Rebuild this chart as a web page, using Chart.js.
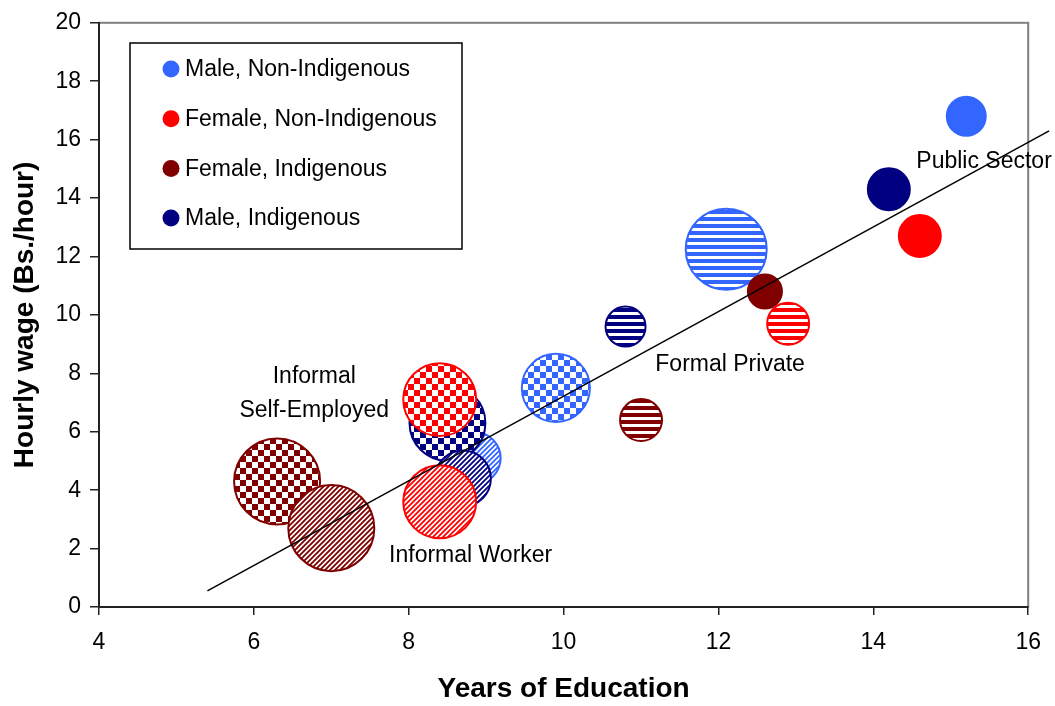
<!DOCTYPE html>
<html>
<head>
<meta charset="utf-8">
<script src="https://cdn.jsdelivr.net/npm/chart.js@4.4.1/dist/chart.umd.min.js"></script>
<style>
html,body{margin:0;padding:0;background:#fff;}
#wrap{width:1055px;height:706px;position:relative;}
</style>
</head>
<body>
<div id="wrap"><canvas id="c" width="1055" height="706"></canvas></div>
<script>
// ---- Data ----
const sectors = ['Informal Self-Employed', 'Informal Worker', 'Formal Private', 'Public Sector'];
const sectorFill = ['checker', 'diagonal', 'horizontal', 'solid'];

const seriesNames = ['Male, Non-Indigenous', 'Female, Non-Indigenous', 'Female, Indigenous', 'Male, Indigenous'];
const seriesColors = ['#3366FF', '#FF0000', '#800000', '#000080'];

// years of education, by sector
const maleNonIndEduc   = [9.9, 8.85, 12.1, 15.2];
const femaleNonIndEduc = [8.4, 8.4, 12.9, 14.6];
const femaleIndEduc    = [6.3, 7.0, 11.0, 12.6];
const maleIndEduc      = [8.5, 8.7, 10.8, 14.2];

// hourly wage (Bs./hour), by sector
const maleNonIndWage   = [7.5, 5.1, 12.25, 16.8];
const femaleNonIndWage = [7.1, 3.6, 9.7, 12.7];
const femaleIndWage    = [4.3, 2.7, 6.4, 10.8];
const maleIndWage      = [6.3, 4.4, 9.6, 14.3];

// relative bubble size (area), by sector
const maleNonIndSize   = [11.6, 6.8, 16.4, 3.8];
const femaleNonIndSize = [13.3, 13.3, 4.4, 4.4];
const femaleIndSize    = [18.5, 18.5, 4.4, 2.9];
const maleIndSize      = [14.4, 7.8, 4.0, 4.4];

// fitted trend line end points
const trendEduc = [5.4, 16.27];
const trendWage = [0.55, 16.3];

// text annotations
const noteLines = [['Informal', 'Self-Employed'], ['Informal Worker'], ['Formal Private'], ['Public Sector']];
const noteEduc  = [6.78, 8.8, 12.15, 15.43];
const noteWage  = [7.9, 1.76, 8.3, 15.25];

const xTicks = [4, 6, 8, 10, 12, 14, 16];
const yTicks = [0, 2, 4, 6, 8, 10, 12, 14, 16, 18, 20];

// ---- Helpers ----
const FONT = '"Liberation Sans", Arial, sans-serif';

function makePattern(kind, color) {
  if (kind === 'solid') return color;
  const c = document.createElement('canvas');
  const g = c.getContext('2d');
  if (kind === 'checker') {
    c.width = c.height = 12;
    g.fillStyle = '#fff'; g.fillRect(0, 0, 12, 12);
    g.fillStyle = color; g.fillRect(0, 0, 6, 6); g.fillRect(6, 6, 6, 6);
  } else if (kind === 'diagonal') {
    const s = 5;
    c.width = c.height = s;
    g.fillStyle = '#fff'; g.fillRect(0, 0, s, s);
    g.strokeStyle = color; g.lineWidth = 1.8;
    g.beginPath();
    for (const o of [-s, 0, s]) { g.moveTo(o - 1, s + 1); g.lineTo(o + s + 1, -1); }
    g.stroke();
  } else if (kind === 'horizontal') {
    c.width = 7; c.height = 7;
    g.fillStyle = '#fff'; g.fillRect(0, 0, 7, 7);
    g.fillStyle = color; g.fillRect(0, 0, 7, 4);
  }
  return g.createPattern(c, 'repeat');
}

function sizeToRadius(s) { return 10 * Math.sqrt(s); }

function buildSeries(idx, educ, wage, size, order) {
  const color = seriesColors[idx];
  return {
    type: 'bubble',
    label: seriesNames[idx],
    data: educ.map((x, i) => ({ x: x, y: wage[i], r: sizeToRadius(size[i]) })),
    backgroundColor: sectorFill.map(k => makePattern(k, color)),
    borderColor: color,
    borderWidth: 2,
    hoverBorderWidth: 2,
    order: order
  };
}

const datasets = [
  {
    type: 'line',
    label: 'Trend',
    data: trendEduc.map((x, i) => ({ x: x, y: trendWage[i] })),
    borderColor: '#000',
    borderWidth: 1.5,
    pointRadius: 0,
    fill: false,
    clip: false,
    order: 0
  },
  buildSeries(0, maleNonIndEduc, maleNonIndWage, maleNonIndSize, 4),
  buildSeries(1, femaleNonIndEduc, femaleNonIndWage, femaleNonIndSize, 1),
  buildSeries(2, femaleIndEduc, femaleIndWage, femaleIndSize, 3),
  buildSeries(3, maleIndEduc, maleIndWage, maleIndSize, 2)
];

// ---- Plugins ----
const backgroundFrame = {
  id: 'backgroundFrame',
  beforeDraw(chart) {
    const { ctx, chartArea: a } = chart;
    ctx.save();
    ctx.fillStyle = '#fff';
    ctx.fillRect(0, 0, chart.width, chart.height);
    ctx.strokeStyle = '#808080';
    ctx.lineWidth = 2;
    ctx.strokeRect(a.left, a.top, a.right - a.left, a.bottom - a.top);
    ctx.restore();
  }
};

const notes = {
  id: 'notes',
  beforeDatasetsDraw(chart) {
    const { ctx, scales } = chart;
    ctx.save();
    ctx.fillStyle = '#000';
    ctx.font = '23px ' + FONT;
    ctx.textAlign = 'center';
    ctx.textBaseline = 'middle';
    noteLines.forEach((lines, i) => {
      const px = scales.x.getPixelForValue(noteEduc[i]);
      const py = scales.y.getPixelForValue(noteWage[i]);
      lines.forEach((t, j) => ctx.fillText(t, px, py + j * 34));
    });
    ctx.restore();
  }
};

const boxLegend = {
  id: 'boxLegend',
  afterDatasetsDraw(chart) {
    const { ctx } = chart;
    const box = { x: 130, y: 43, w: 332, h: 206 };
    ctx.save();
    ctx.fillStyle = '#fff';
    ctx.fillRect(box.x, box.y, box.w, box.h);
    ctx.strokeStyle = '#000';
    ctx.lineWidth = 1.5;
    ctx.strokeRect(box.x, box.y, box.w, box.h);
    ctx.font = '23px ' + FONT;
    ctx.textAlign = 'left';
    ctx.textBaseline = 'middle';
    seriesNames.forEach((name, i) => {
      const cy = 69 + i * 49.7;
      ctx.fillStyle = seriesColors[i];
      ctx.beginPath();
      ctx.arc(171, cy, 8.5, 0, Math.PI * 2);
      ctx.fill();
      ctx.fillStyle = '#000';
      ctx.fillText(name, 185, cy + 1);
    });
    ctx.restore();
  }
};

// ---- Chart ----
new Chart(document.getElementById('c'), {
  type: 'bubble',
  data: { datasets: datasets },
  options: {
    responsive: false,
    animation: false,
    events: [],
    layout: { autoPadding: false, padding: { top: 17, right: 26, left: 0, bottom: 0 } },
    plugins: {
      legend: { display: false },
      tooltip: { enabled: false }
    },
    scales: {
      x: {
        type: 'linear',
        min: 4, max: 16,
        afterBuildTicks: s => { s.ticks = xTicks.map(v => ({ value: v })); },
        afterFit: s => { s.height = 99; },
        grid: { drawOnChartArea: false, drawTicks: true, tickLength: 8, color: '#222', lineWidth: 1.5 },
        border: { display: true, color: '#222', width: 2 },
        ticks: { color: '#000', font: { family: FONT, size: 23 }, padding: 14, maxRotation: 0 },
        title: { display: true, text: 'Years of Education', color: '#000',
                 font: { family: FONT, size: 28, weight: 'bold' }, padding: { top: 0, bottom: 0 } }
      },
      y: {
        type: 'linear',
        min: 0, max: 20,
        afterBuildTicks: s => { s.ticks = yTicks.map(v => ({ value: v })); },
        afterFit: s => { s.width = 99; },
        grid: { drawOnChartArea: false, drawTicks: true, tickLength: 9, color: '#222', lineWidth: 1.5 },
        border: { display: true, color: '#222', width: 2 },
        ticks: { color: '#000', font: { family: FONT, size: 23 }, padding: 9 },
        title: { display: true, text: 'Hourly wage (Bs./hour)', color: '#000',
                 font: { family: FONT, size: 28, weight: 'bold' }, padding: { top: 8, bottom: 0 } }
      }
    }
  },
  plugins: [backgroundFrame, notes, boxLegend]
});
</script>
</body>
</html>
